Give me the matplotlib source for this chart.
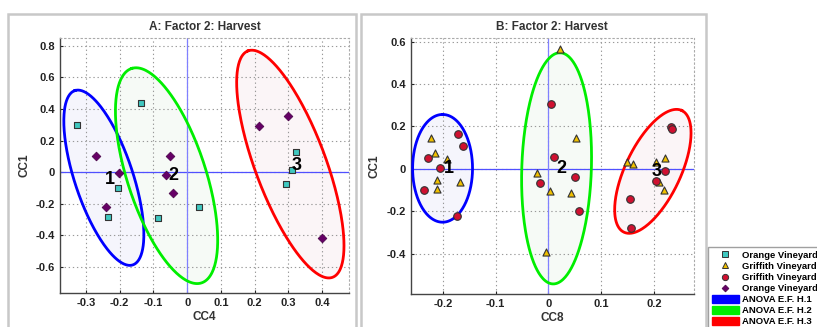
import numpy as np
import matplotlib
matplotlib.use("Agg")
import matplotlib.pyplot as plt
from matplotlib.lines import Line2D
from matplotlib.patches import Patch, Rectangle

# ---- panel A data (CC4 vs CC1) ----
a_orange1_x = [-0.326, -0.137, -0.205, -0.235, -0.086, 0.036, 0.322, 0.312, 0.294]
a_orange1_y = [0.296, 0.44, -0.097, -0.286, -0.293, -0.219, 0.125, 0.017, -0.073]
a_orange2_x = [-0.271, -0.203, -0.241, -0.051, -0.062, -0.041, 0.213, 0.298, 0.401]
a_orange2_y = [0.104, -0.008, -0.223, 0.1, -0.018, -0.13, 0.294, 0.355, -0.417]

# ellipses: center, major semi-axis vector, minor semi-axis vector
a_ell_center = [(-0.247, -0.035), (-0.061, -0.022), (0.306, 0.0515)]
a_ell_u = [(-0.0859, 0.552), (-0.1037, 0.679), (-0.1254, 0.717)]
a_ell_v = [(0.0819, 0.0582), (0.1106, 0.0772), (0.098, 0.0782)]
a_labels = ["1", "2", "3"]
a_label_pos = [(-0.229, -0.043), (-0.041, -0.024), (0.324, 0.045)]

# ---- panel B data (CC8 vs CC1) ----
b_griff1_x = [-0.2227, -0.2145, -0.192, -0.212, -0.2107, -0.168, 0.0215, 0.0524,
              -0.0208, 0.0032, 0.0423, -0.0044, 0.1495, 0.160, 0.2044, 0.2215,
              0.2095, 0.2196]
b_griff1_y = [0.144, 0.076, 0.045, -0.0525, -0.0965, -0.06, 0.565, 0.144,
              -0.021, -0.103, -0.115, -0.392, 0.034, 0.023, 0.031, 0.051,
              -0.06, -0.1]
b_griff2_x = [-0.2278, -0.205, -0.1722, -0.1628, -0.2353, -0.1729, 0.0044, 0.0101,
              -0.0158, 0.0511, 0.058, 0.2322, 0.235, 0.2202, 0.2032, 0.1546, 0.1565]
b_griff2_y = [0.053, 0.0025, 0.1645, 0.108, -0.0997, -0.222, 0.3044, 0.0544,
              -0.065, -0.037, -0.197, 0.196, 0.19, -0.01, -0.057, -0.142, -0.279]

b_ell_center = [(-0.2006, 0.0025), (0.0155, 0.0025), (0.198, -0.0117)]
b_ell_u = [(0.0, 0.254), (0.0063, 0.545), (0.0549, 0.2868)]
b_ell_v = [(0.0568, 0.0), (0.066, 0.0), (0.0472, -0.056)]
b_labels = ["1", "2", "3"]
b_label_pos = [(-0.189, 0.0025), (0.0252, 0.0), (0.205, -0.013)]

ell_colors = ["#0000ff", "#00ee00", "#ff0000"]
ell_fills = ["#e4e4f8", "#e6f2e6", "#f6e4ea"]

plt.rcParams["font.family"] = "Liberation Sans"
plt.rcParams["font.weight"] = "bold"

fig = plt.figure(figsize=(8.17, 3.27), dpi=100)

# gray frames around the panels
fig.patches.append(Rectangle((8 / 817, -0.05), 348 / 817, 1 - 14 / 327 + 0.05,
                             transform=fig.transFigure, fill=False,
                             ec="#c8c8c8", lw=1.8))
fig.patches.append(Rectangle((361 / 817, -0.05), 345 / 817, 1 - 14 / 327 + 0.05,
                             transform=fig.transFigure, fill=False,
                             ec="#c8c8c8", lw=1.8))

axA = fig.add_axes([60 / 817, 1 - 293 / 327, 289 / 817, 255 / 327])
axB = fig.add_axes([410.7 / 817, 1 - 294 / 327, 283.3 / 817, 256 / 327])


def draw_ellipses(ax, centers, us, vs):
    t = np.linspace(0, 2 * np.pi, 300)
    for c, u, v, col, fc in zip(centers, us, vs, ell_colors, ell_fills):
        ex = c[0] + u[0] * np.cos(t) + v[0] * np.sin(t)
        ey = c[1] + u[1] * np.cos(t) + v[1] * np.sin(t)
        ax.fill(ex, ey, color=fc, alpha=0.35, lw=0, zorder=1)
        ax.plot(ex, ey, color=col, lw=2, zorder=4)


def style_axes(ax, title, xlabel):
    ax.grid(True, ls=(0, (1.2, 2.5)), color="#999999", lw=0.8)
    ax.axhline(0, color="#5050ff", lw=0.9, zorder=2)
    ax.axvline(0, color="#8080ff", lw=0.9, zorder=2)
    for s in ["top", "right"]:
        ax.spines[s].set_linestyle((0, (1.2, 2.5)))
        ax.spines[s].set_color("#aaaaaa")
    for s in ["left", "bottom"]:
        ax.spines[s].set_color("#444444")
        ax.spines[s].set_linewidth(1.0)
    ax.tick_params(labelsize=8, length=2, direction="in", colors="#222222")
    for lab in ax.get_xticklabels() + ax.get_yticklabels():
        lab.set_fontweight("bold")
    ax.set_title(title, fontsize=8.5, fontweight="bold", pad=6, color="#333333")
    ax.set_xlabel(xlabel, fontsize=8.5, fontweight="bold", labelpad=2, color="#333333")
    ax.set_ylabel("CC1", fontsize=8.5, fontweight="bold", labelpad=4, color="#333333")


# panel A
draw_ellipses(axA, a_ell_center, a_ell_u, a_ell_v)
axA.scatter(a_orange1_x, a_orange1_y, marker="s", s=22, c="#40c8c0",
            edgecolors="#333333", linewidths=0.8, zorder=5)
axA.scatter(a_orange2_x, a_orange2_y, marker="D", s=20, c="#660066",
            edgecolors="#440044", linewidths=0.5, zorder=5)
for lab, (x, y) in zip(a_labels, a_label_pos):
    axA.text(x, y, lab, fontsize=13, fontweight="bold", ha="center",
             va="center", zorder=6)
axA.set_xlim(-0.377, 0.48)
axA.set_ylim(-0.765, 0.85)
axA.set_xticks([-0.3, -0.2, -0.1, 0, 0.1, 0.2, 0.3, 0.4])
axA.set_xticklabels(["-0.3", "-0.2", "-0.1", "0", "0.1", "0.2", "0.3", "0.4"])
axA.set_yticks([-0.6, -0.4, -0.2, 0, 0.2, 0.4, 0.6, 0.8])
axA.set_yticklabels(["-0.6", "-0.4", "-0.2", "0", "0.2", "0.4", "0.6", "0.8"])
style_axes(axA, "A: Factor 2: Harvest", "CC4")

# panel B
draw_ellipses(axB, b_ell_center, b_ell_u, b_ell_v)
axB.scatter(b_griff1_x, b_griff1_y, marker="^", s=26, c="#f0c000",
            edgecolors="#333333", linewidths=0.8, zorder=5)
axB.scatter(b_griff2_x, b_griff2_y, marker="o", s=30, c="#d01030",
            edgecolors="#333333", linewidths=0.8, zorder=5)
for lab, (x, y) in zip(b_labels, b_label_pos):
    axB.text(x, y, lab, fontsize=13, fontweight="bold", ha="center",
             va="center", zorder=6)
axB.set_xlim(-0.261, 0.276)
axB.set_ylim(-0.59, 0.617)
axB.set_xticks([-0.2, -0.1, 0, 0.1, 0.2])
axB.set_xticklabels(["-0.2", "-0.1", "0", "0.1", "0.2"])
axB.set_yticks([-0.4, -0.2, 0, 0.2, 0.4, 0.6])
axB.set_yticklabels(["-0.4", "-0.2", "0", "0.2", "0.4", "0.6"])
style_axes(axB, "B: Factor 2: Harvest", "CC8")

# legend (cut off by the figure edge like the original)
handles = [
    Line2D([], [], ls="none", marker="s", ms=4, mfc="#40c8c0", mec="#333333", mew=0.7),
    Line2D([], [], ls="none", marker="^", ms=4.5, mfc="#f0c000", mec="#333333", mew=0.7),
    Line2D([], [], ls="none", marker="o", ms=4.5, mfc="#d01030", mec="#333333", mew=0.7),
    Line2D([], [], ls="none", marker="D", ms=3.5, mfc="#660066", mec="#440044", mew=0.5),
    Patch(color="#0000ff"),
    Patch(color="#00ee00"),
    Patch(color="#ff0000"),
]
names = ["Orange Vineyard 1", "Griffith Vineyard 1", "Griffith Vineyard 2",
         "Orange Vineyard 2", "ANOVA E.F. H.1", "ANOVA E.F. H.2", "ANOVA E.F. H.3"]
fig.legend(handles, names, loc="upper left",
           bbox_to_anchor=(708 / 817, 1 - 247 / 327),
           prop={"size": 6.8, "weight": "bold"}, frameon=True, fancybox=False,
           edgecolor="#888888", handlelength=2.9, handleheight=0.9,
           handletextpad=0.35, labelspacing=0.2, borderpad=0.4, borderaxespad=0)

fig.savefig("out.png", dpi=100)
